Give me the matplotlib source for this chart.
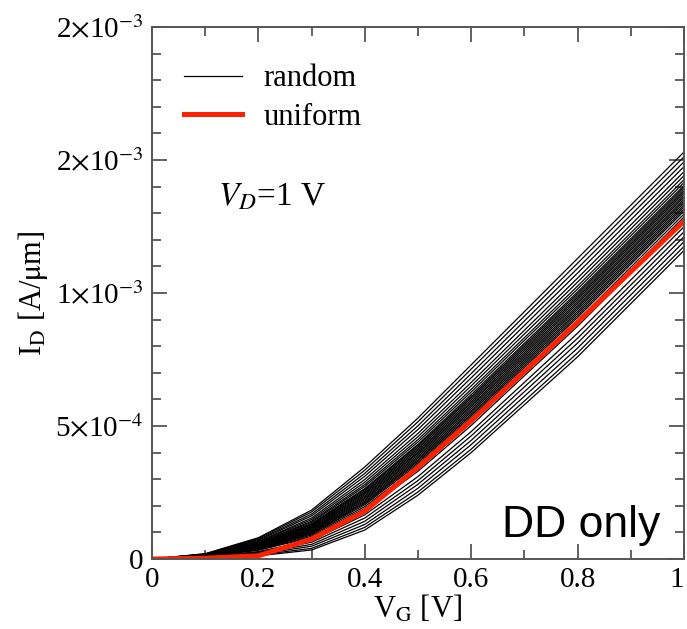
import numpy as np
import matplotlib
matplotlib.use("Agg")
import matplotlib.pyplot as plt
from matplotlib.ticker import FixedLocator, MultipleLocator

plt.rcParams['font.family'] = ['Liberation Serif', 'DejaVu Serif']
plt.rcParams['mathtext.fontset'] = 'stix'

# gate voltage [V]
vg = [0.0, 0.1, 0.2, 0.3, 0.4, 0.5, 0.6, 0.7, 0.8, 0.9, 1.0]

# drain current, units of 1e-4 A/um
uniform = [0, 0.03, 0.12, 0.75, 1.80, 3.45, 5.20, 7.05, 8.90, 10.80, 12.70]

random_curves = [
    [0, 0.03, 0.12, 0.34, 1.09, 2.40, 4.00, 5.80, 7.60, 9.60, 11.60],
    [0, 0.04, 0.15, 0.40, 1.19, 2.52, 4.13, 5.94, 7.75, 9.75, 11.75],
    [0, 0.05, 0.18, 0.48, 1.30, 2.66, 4.30, 6.12, 7.93, 9.93, 11.93],
    [0, 0.05, 0.22, 0.55, 1.42, 2.81, 4.46, 6.29, 8.12, 10.12, 12.12],
    [0, 0.06, 0.25, 0.63, 1.54, 2.95, 4.63, 6.47, 8.30, 10.30, 12.30],
    [0, 0.07, 0.28, 0.70, 1.66, 3.10, 4.79, 6.64, 8.49, 10.49, 12.49],
    [0, 0.08, 0.33, 0.81, 1.83, 3.30, 5.02, 6.89, 8.75, 10.75, 12.75],
    [0, 0.09, 0.35, 0.85, 1.90, 3.39, 5.12, 6.99, 8.86, 10.86, 12.86],
    [0, 0.09, 0.37, 0.90, 1.97, 3.47, 5.22, 7.10, 8.97, 10.97, 12.97],
    [0, 0.10, 0.39, 0.94, 2.04, 3.56, 5.32, 7.20, 9.08, 11.08, 13.08],
    [0, 0.10, 0.41, 0.97, 2.09, 3.62, 5.39, 7.27, 9.15, 11.15, 13.15],
    [0, 0.11, 0.42, 1.00, 2.13, 3.68, 5.45, 7.34, 9.23, 11.23, 13.23],
    [0, 0.11, 0.43, 1.03, 2.18, 3.73, 5.52, 7.41, 9.30, 11.30, 13.30],
    [0, 0.11, 0.45, 1.06, 2.23, 3.79, 5.58, 7.48, 9.38, 11.38, 13.38],
    [0, 0.12, 0.46, 1.09, 2.28, 3.85, 5.65, 7.55, 9.45, 11.45, 13.45],
    [0, 0.12, 0.47, 1.12, 2.32, 3.91, 5.72, 7.62, 9.52, 11.52, 13.52],
    [0, 0.12, 0.49, 1.15, 2.37, 3.97, 5.78, 7.69, 9.60, 11.60, 13.60],
    [0, 0.13, 0.50, 1.18, 2.42, 4.02, 5.85, 7.76, 9.67, 11.67, 13.67],
    [0, 0.13, 0.51, 1.21, 2.47, 4.08, 5.91, 7.83, 9.75, 11.75, 13.75],
    [0, 0.13, 0.53, 1.24, 2.51, 4.14, 5.98, 7.90, 9.82, 11.82, 13.82],
    [0, 0.14, 0.54, 1.27, 2.56, 4.20, 6.05, 7.97, 9.89, 11.89, 13.89],
    [0, 0.14, 0.56, 1.30, 2.61, 4.26, 6.11, 8.04, 9.97, 11.97, 13.97],
    [0, 0.14, 0.57, 1.33, 2.65, 4.31, 6.18, 8.11, 10.04, 12.04, 14.04],
    [0, 0.15, 0.59, 1.38, 2.73, 4.40, 6.28, 8.22, 10.15, 12.15, 14.15],
    [0, 0.15, 0.61, 1.42, 2.80, 4.49, 6.38, 8.32, 10.26, 12.26, 14.26],
    [0, 0.16, 0.64, 1.48, 2.89, 4.60, 6.51, 8.46, 10.41, 12.41, 14.41],
    [0, 0.17, 0.66, 1.54, 2.99, 4.72, 6.64, 8.60, 10.56, 12.56, 14.56],
    [0, 0.18, 0.70, 1.62, 3.11, 4.87, 6.81, 8.78, 10.75, 12.75, 14.75],
    [0, 0.18, 0.73, 1.69, 3.22, 5.01, 6.97, 8.95, 10.93, 12.93, 14.93],
    [0, 0.19, 0.77, 1.77, 3.34, 5.16, 7.14, 9.13, 11.12, 13.12, 15.12],
    [0, 0.20, 0.80, 1.84, 3.46, 5.30, 7.30, 9.30, 11.30, 13.30, 15.30],
]

ytick_vals = [0, 5e-4, 1e-3, 1.5e-3, 2e-3]
ytick_labels = ['0', r'5$\times$10$^{-4}$', r'1$\times$10$^{-3}$',
                r'2$\times$10$^{-3}$', r'2$\times$10$^{-3}$']
xtick_vals = [0, 0.2, 0.4, 0.6, 0.8, 1.0]
xtick_labels = ['0', '0.2', '0.4', '0.6', '0.8', '1']

fig = plt.figure(figsize=(6.87, 6.29), dpi=100)
ax = fig.add_axes([152/687, 1-559/629, 532/687, 532/629])

scale = 1e-4
for i, c in enumerate(random_curves):
    ax.plot(vg, np.array(c)*scale, color='black', lw=0.9,
            label='random' if i == 0 else None)
ax.plot(vg, np.array(uniform)*scale, color='#ff2200', lw=3.6, label='uniform')

ax.set_xlim(0, 1)
ax.set_ylim(0, 2e-3)
ax.yaxis.set_major_locator(FixedLocator(ytick_vals))
ax.set_yticklabels(ytick_labels)
ax.yaxis.set_minor_locator(MultipleLocator(1e-4))
ax.xaxis.set_major_locator(FixedLocator(xtick_vals))
ax.set_xticklabels(xtick_labels)
ax.xaxis.set_minor_locator(MultipleLocator(0.1))
# last x label sits at the right edge of the figure, keep it inside
ax.get_xticklabels()[-1].set_horizontalalignment('right')

ax.tick_params(which='both', direction='in', top=True, right=True,
               color='#555555', labelsize=21, width=1.3)
ax.tick_params(which='major', length=11, pad=6)
ax.tick_params(which='minor', length=6.5)
for s in ax.spines.values():
    s.set_color('#555555')
    s.set_linewidth(1.4)

ax.set_xlabel(r'V$_\mathrm{G}$ [V]', fontsize=22, labelpad=0)
ax.set_ylabel(r'I$_\mathrm{D}$ [A/$\mathrm{\mu}$m]', fontsize=22, labelpad=4)

ax.legend(loc='upper left', frameon=False, fontsize=22, handlelength=1.9,
          handletextpad=0.7, borderaxespad=0.3, labelspacing=0.3,
          bbox_to_anchor=(0.02, 0.97))

ax.text(0.125, 0.68, r'$V_D$=1 V', transform=ax.transAxes, fontsize=24,
        va='center', ha='left')
ax.text(0.955, 0.041, 'DD only', transform=ax.transAxes, fontsize=32,
        family='Liberation Sans', ha='right', va='baseline')

fig.savefig('out.png', dpi=100)
